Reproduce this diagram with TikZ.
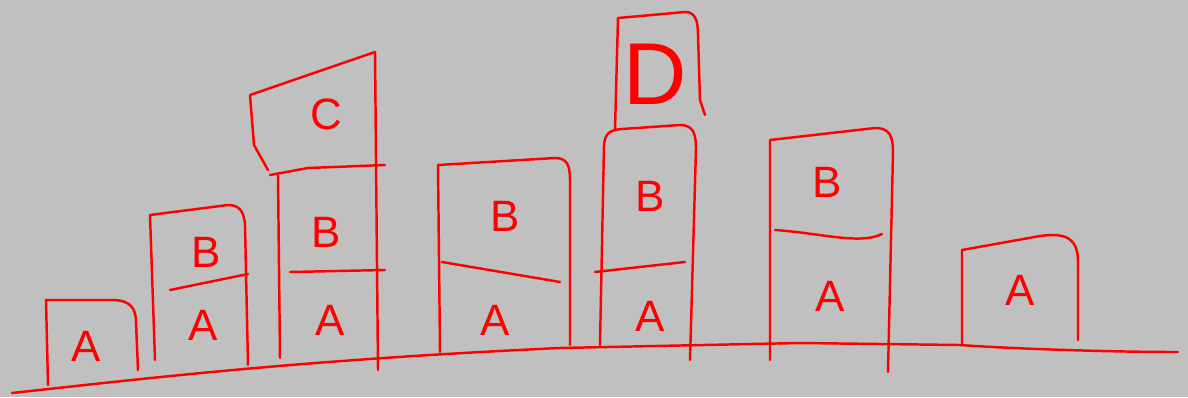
\documentclass[tikz,border=0pt]{standalone}
\usepackage{fontspec}
\setmainfont{Liberation Sans}
\definecolor{bg}{HTML}{C0C0C0}
\definecolor{ink}{HTML}{FF0000}
\begin{document}
\begin{tikzpicture}[x=0.02cm,y=-0.02cm,
  ink/.style={draw=ink, line width=1.4pt, line cap=round, line join=round},
  lt/.style={text=ink, inner sep=0pt, font=\fontsize{25}{25}\selectfont},
  big/.style={text=ink, inner sep=0pt, font=\fontsize{50}{50}\selectfont}]
\useasboundingbox (0,0) rectangle (1188,397);
\fill[bg] (0,0) rectangle (1188,397);
% ground
\draw[ink] (12,393) .. controls (150,378) and (300,360) .. (560,348)
  -- (800,343) -- (960,345) .. controls (1000,348) and (1100,352) .. (1178,352);
% box 1
\draw[ink] (48,385) -- (46,300) -- (112,300) .. controls (130,300) and (136,308) .. (136,322) -- (138,370);
\node[lt] (a1) at (86,346) {A};
% box 2
\draw[ink] (155,360) -- (150,215) -- (228,205) .. controls (240,205) and (244,212) .. (245,225) -- (248,365);
\draw[ink] (170,290) -- (248,274);
\node[lt] (b2) at (206,252) {B};
\node[lt] (a2) at (203,325) {A};
% box 3
\draw[ink] (268,170) -- (254,145) -- (250,95) -- (375,52) -- (378,370);
\draw[ink] (280,358) -- (278,175);
\draw[ink] (270,175) -- (308,168) -- (385,165);
\draw[ink] (290,272) -- (385,270);
\node[lt] (c3) at (326,114) {C};
\node[lt] (b3) at (326,232) {B};
\node[lt] (a3) at (330,320) {A};
% box 4
\draw[ink] (440,352) -- (438,165) -- (555,158) .. controls (567,158) and (570,165) .. (570,180) -- (570,345);
\draw[ink] (442,262) -- (560,282);
\node[lt] (b4) at (505,216) {B};
\node[lt] (a4) at (495,320) {A};
% box 5 top (D)
\draw[ink] (615,130) -- (618,18) -- (685,12) .. controls (695,12) and (698,20) .. (698,35) -- (700,100) -- (705,115);
\node[big] (d5) at (655,74) {D};
% box 5 lower
\draw[ink] (600,345) -- (604,145) .. controls (605,133) and (610,130) .. (622,129) -- (680,125) .. controls (692,125) and (696,132) .. (696,148) -- (690,360);
\draw[ink] (595,272) -- (685,262);
\node[lt] (b5) at (650,196) {B};
\node[lt] (a5) at (650,316) {A};
% box 6
\draw[ink] (770,360) -- (770,140) -- (875,128) .. controls (889,128) and (893,135) .. (893,152) -- (888,372);
\draw[ink] (775,230) .. controls (820,233) and (860,245) .. (882,234);
\node[lt] (b6) at (827,182) {B};
\node[lt] (a6) at (830,296) {A};
% box 7
\draw[ink] (962,345) -- (962,250) -- (1040,236) .. controls (1068,232) and (1078,240) .. (1078,262) -- (1078,340);
\node[lt] (a7) at (1020,290) {A};
\end{tikzpicture}
\end{document}
